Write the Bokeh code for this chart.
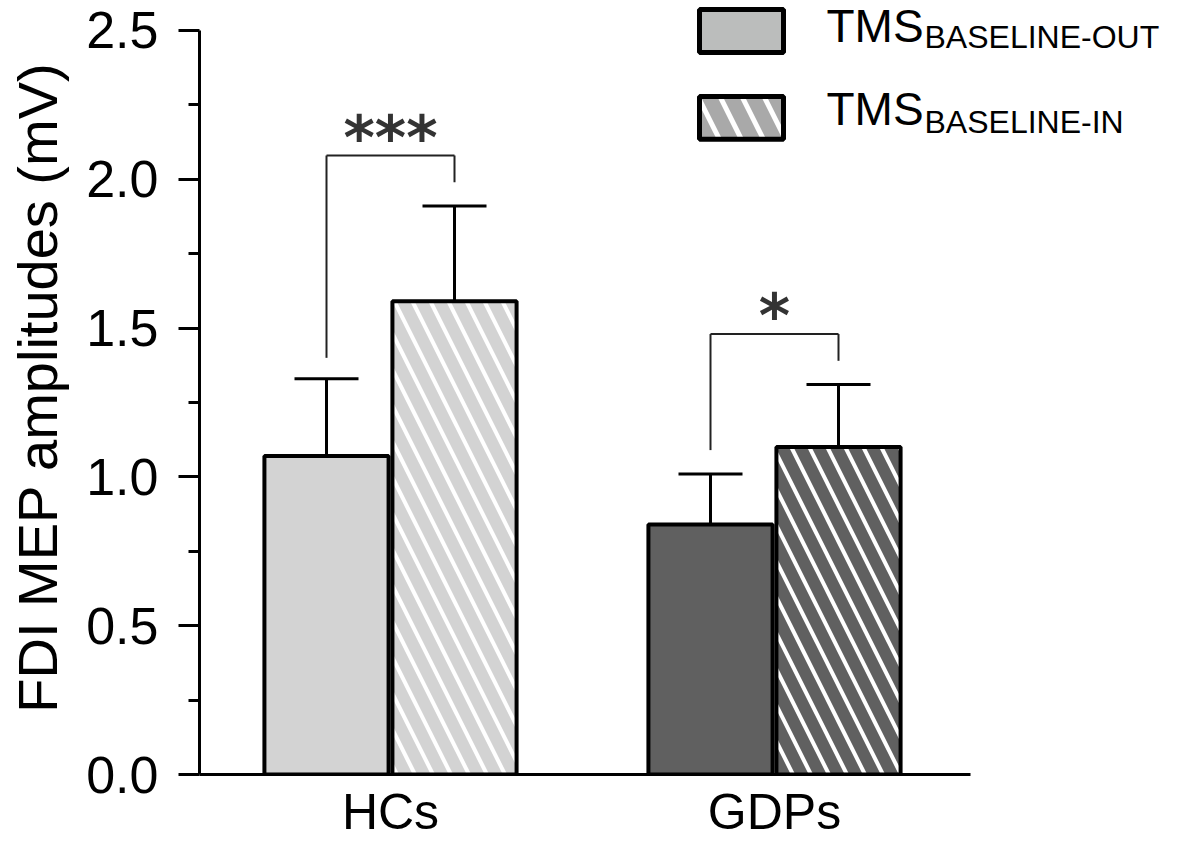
import numpy as np
from bokeh.plotting import figure
from bokeh.models import Range1d, FixedTicker
from bokeh.embed import file_html
from bokeh.resources import INLINE
from bokeh.core.properties import value

# ---------------- data ----------------
groups = ["HCs", "GDPs"]
mean_out = [1.07, 0.84]          # TMS BASELINE-OUT
mean_in = [1.59, 1.10]           # TMS BASELINE-IN
sem_out = [0.26, 0.17]
sem_in = [0.32, 0.21]
sig_labels = ["***", "*"]
sig_bracket_y = [2.08, 1.48]
sig_leg_left_bottom = [1.40, 1.09]
sig_leg_right_bottom = [1.99, 1.39]
y_ticks = [0.0, 0.5, 1.0, 1.5, 2.0, 2.5]
y_tick_labels = ["0.0", "0.5", "1.0", "1.5", "2.0", "2.5"]
y_title = "FDI MEP amplitudes (mV)"
legend_main = ["TMS", "TMS"]
legend_sub = ["BASELINE-OUT", "BASELINE-IN"]

# ---------------- layout helpers (canvas pixels) ----------------
W, H = 1165, 842
BL = 199              # canvas x of the y axis
FONT = "Liberation Sans"
XS = 128.0            # px per x unit
X1 = 390.0            # canvas x of group 1 centre
YB = 775.0            # canvas y of value 0
Y25 = 30.0            # canvas y of value 2.5
YS = (YB - Y25) / 2.5
BB = int(H - YB)

def dx(px):
    return 1 + (px - X1) / XS

def dy(py):
    return (YB - py) / YS

x_start = dx(BL)
x_end = dx(W)
y_end = dy(0)

p = figure(width=W, height=H, output_backend="svg", toolbar_location=None,
           x_range=Range1d(x_start, x_end), y_range=Range1d(0, y_end),
           min_border_left=BL, min_border_right=0, min_border_top=0,
           min_border_bottom=BB)
p.outline_line_color = None
p.xgrid.grid_line_color = None
p.ygrid.grid_line_color = None
p.background_fill_color = "white"
p.border_fill_color = "white"

gx = np.array([1.0, 4.0])
x_out = gx - 0.5
x_in = gx + 0.5
bw = 0.97

out_colors = ["#d3d3d3", "#606060"]

p.vbar(x=x_out, top=mean_out, width=bw, bottom=0, fill_color=out_colors,
       line_color="black", line_width=4)
p.vbar(x=x_in, top=mean_in, width=bw, bottom=0, fill_color=out_colors,
       line_color="black", line_width=4, hatch_pattern="left_diagonal_line",
       hatch_color="white", hatch_scale=36, hatch_weight=4)

# error bars (upper only)
for xs, m, s in ((x_out, mean_out, sem_out), (x_in, mean_in, sem_in)):
    m = np.array(m); s = np.array(s)
    p.segment(x0=xs, y0=m, x1=xs, y1=m + s, line_color="black", line_width=3)
    p.segment(x0=xs - 0.25, y0=m + s, x1=xs + 0.25, y1=m + s,
              line_color="black", line_width=3)

# significance brackets
p.segment(x0=x_out, y0=sig_leg_left_bottom, x1=x_out, y1=sig_bracket_y,
          line_color="#222222", line_width=2)
p.segment(x0=x_out, y0=sig_bracket_y, x1=x_in, y1=sig_bracket_y,
          line_color="#222222", line_width=2)
p.segment(x0=x_in, y0=sig_leg_right_bottom, x1=x_in, y1=sig_bracket_y,
          line_color="#222222", line_width=2)
p.text(x=gx, y=np.array(sig_bracket_y) + 0.06, text=sig_labels,
       text_align="center", text_baseline="alphabetic",
       text_font=value("DejaVu Sans"), text_font_style="bold",
       text_font_size="60px", text_color="#333333")

# legend
p.quad(left=[dx(699)], right=[dx(783)], top=[dy(9)], bottom=[dy(52)],
       fill_color="#bbbdbc", line_color="black", line_width=5)
p.quad(left=[dx(699)], right=[dx(783)], top=[dy(96)], bottom=[dy(139)],
       fill_color="#a9a9a9", line_color="black", line_width=5,
       hatch_pattern="left_diagonal_line", hatch_color="white",
       hatch_scale=44, hatch_weight=5)
p.text(x=[dx(826)] * 2, y=[dy(26), dy(109)], text=legend_main,
       text_align="left", text_baseline="alphabetic",
       text_font=value(FONT), text_font_size="46px", text_color="black")
p.text(x=[dx(924)] * 2, y=[dy(37), dy(122)], text=legend_sub,
       text_align="left", text_baseline="alphabetic",
       text_font=value(FONT), text_font_size="32px", text_color="black")

# x axis
xa = p.xaxis[0]
xa.ticker = FixedTicker(ticks=list(gx))
xa.major_label_overrides = {float(g): lab for g, lab in zip(gx, groups)}
xa.bounds = (x_start, dx(970))
xa.axis_line_width = 3
xa.axis_line_color = "black"
xa.major_tick_line_color = None
xa.minor_tick_line_color = None
xa.major_label_text_font = FONT
xa.major_label_text_font_size = "50px"
xa.major_label_text_color = "black"
xa.major_label_standoff = 3

# y axis
ya = p.yaxis[0]
minor = [(a + b) / 2 for a, b in zip(y_ticks[:-1], y_ticks[1:])]
ya.ticker = FixedTicker(ticks=y_ticks, minor_ticks=minor)
ya.major_label_overrides = {t: l for t, l in zip(y_ticks, y_tick_labels)}
ya.bounds = (0, 2.5)
ya.axis_line_width = 3
ya.axis_line_color = "black"
ya.major_tick_line_width = 3
ya.minor_tick_line_width = 3
ya.major_tick_line_color = "black"
ya.minor_tick_line_color = "black"
ya.major_tick_out = 21
ya.major_tick_in = 0
ya.minor_tick_out = 11
ya.minor_tick_in = 0
ya.major_label_text_font = FONT
ya.major_label_text_font_size = "52px"
ya.major_label_text_color = "black"
ya.major_label_standoff = 20
ya.axis_label = y_title
ya.axis_label_text_font = FONT
ya.axis_label_text_font_size = "56px"
ya.axis_label_text_font_style = "normal"
ya.axis_label_text_color = "black"
ya.axis_label_standoff = 14

open("out.html", "w").write(file_html(p, INLINE))
